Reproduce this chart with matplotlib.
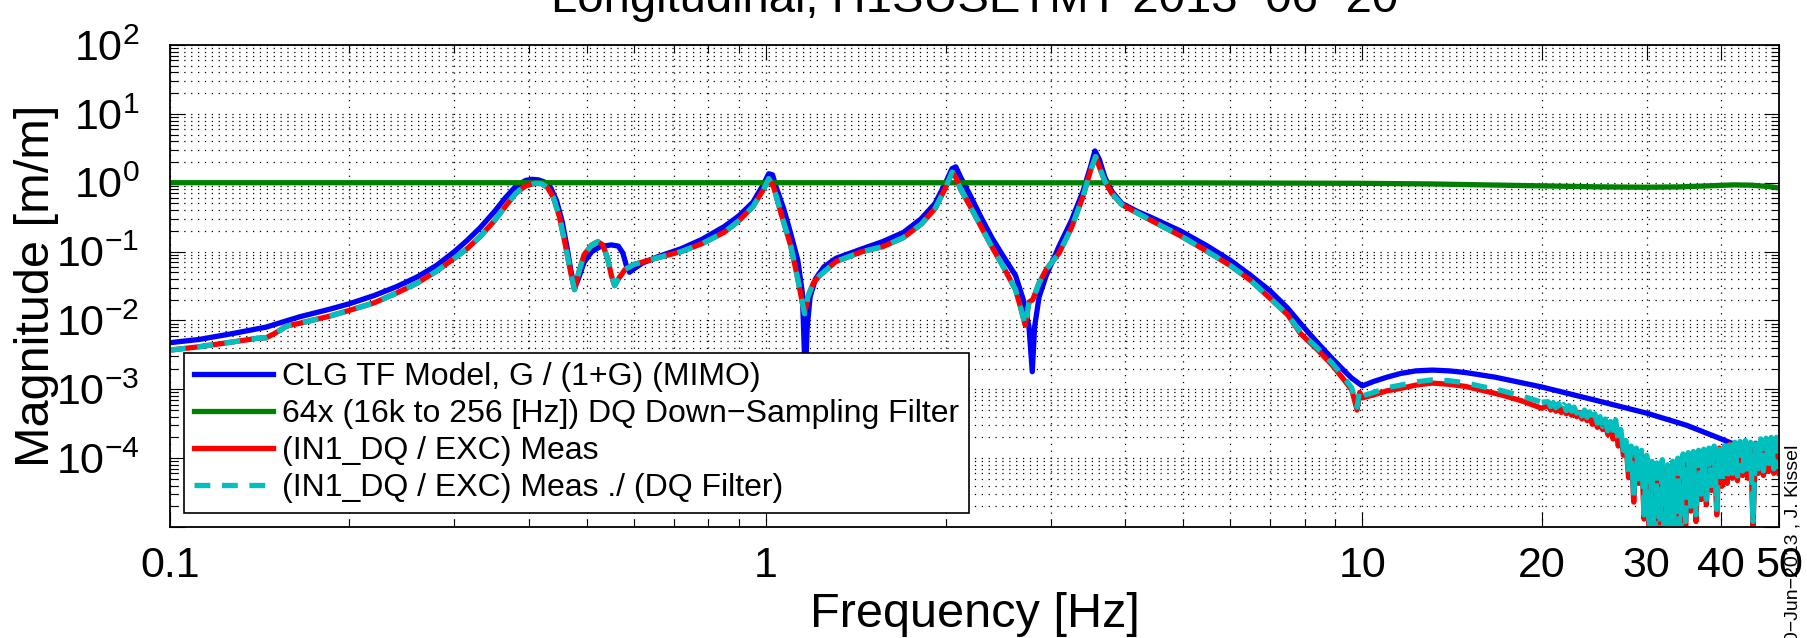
import matplotlib
matplotlib.use('Agg')
import matplotlib.pyplot as plt
import numpy as np
from matplotlib.ticker import FixedLocator, FixedFormatter, LogLocator, NullFormatter

## данные

# CLG TF model, G/(1+G)
model_freq = [0.1, 0.112, 0.128, 0.145, 0.165, 0.185, 0.2, 0.22, 0.24, 0.26, 0.28, 0.3,
              0.315, 0.331, 0.35, 0.365, 0.38, 0.395, 0.405, 0.415, 0.425, 0.435, 0.445,
              0.455, 0.463, 0.47, 0.477, 0.485, 0.495, 0.51, 0.527, 0.55, 0.565, 0.575,
              0.583, 0.59, 0.6, 0.62, 0.66, 0.72, 0.78, 0.85, 0.9, 0.95, 0.99, 1.01, 1.025,
              1.04, 1.07, 1.1, 1.13, 1.15, 1.163, 1.172, 1.185, 1.21, 1.25, 1.31, 1.45,
              1.57, 1.7, 1.82, 1.92, 2.0, 2.05, 2.08, 2.12, 2.2, 2.3, 2.39, 2.5, 2.62, 2.7,
              2.76, 2.795, 2.82, 2.87, 2.95, 3.1, 3.25, 3.4, 3.5, 3.56, 3.62, 3.7, 3.8,
              3.95, 4.2, 4.4, 4.95, 5.5, 6.0, 6.5, 7.0, 7.5, 7.87, 8.4, 8.9, 9.3, 9.6,
              10.0, 10.45, 11.0, 11.6, 12.3, 13.1, 14.0, 14.9, 16.7, 20.0, 24.5, 30.0,
              35.0, 40.0, 42.0, 45.0, 50.0]
model_mag = [4.75e-3, 5.3e-3, 6.5e-3, 8.0e-3, 1.13e-2, 1.45e-2, 1.75e-2, 2.3e-2, 3.1e-2,
             4.3e-2, 6.3e-2, 0.1, 0.145, 0.22, 0.38, 0.6, 0.88, 1.08, 1.12, 1.1, 1.02, 0.85,
             0.55, 0.27, 0.12, 0.055, 0.029, 0.042, 0.07, 0.1, 0.118, 0.125, 0.12, 0.095,
             0.062, 0.05, 0.056, 0.068, 0.085, 0.11, 0.15, 0.23, 0.33, 0.52, 0.95, 1.35,
             1.3, 0.85, 0.42, 0.18, 0.075, 0.025, 0.0015, 0.008, 0.022, 0.04, 0.06, 0.08,
             0.11, 0.14, 0.19, 0.3, 0.5, 1.0, 1.6, 1.7, 1.2, 0.65, 0.3, 0.16, 0.085, 0.045,
             0.02, 0.008, 0.0018, 0.008, 0.022, 0.045, 0.12, 0.28, 0.75, 1.7, 2.9, 2.2,
             1.2, 0.75, 0.5, 0.38, 0.32, 0.2, 0.12, 0.075, 0.045, 0.027, 0.015, 0.0091,
             0.0048, 0.0028, 0.0019, 0.00145, 0.00112, 0.0013, 0.0015, 0.0017, 0.00185,
             0.0019, 0.00185, 0.00175, 0.0015, 0.00108, 0.0007, 0.00045, 0.0003, 0.00019,
             0.00016, 0.00013, 0.0001]

# 64x DQ down-sampling filter
dq_freq = [0.1, 1, 5, 10, 13, 16, 20, 25, 30, 34, 38, 42, 45, 48, 50]
dq_mag = [1.0, 1.0, 0.995, 0.98, 0.96, 0.93, 0.9, 0.87, 0.86, 0.87, 0.9, 0.93, 0.92, 0.88, 0.84]

# (IN1_DQ / EXC) meas, гладкая часть
meas_freq_lo = [0.1, 0.112, 0.128, 0.14, 0.145, 0.15, 0.157, 0.165, 0.185, 0.2, 0.22, 0.24,
                0.26, 0.28, 0.3, 0.315, 0.331, 0.35, 0.365, 0.38, 0.395, 0.41, 0.42, 0.43,
                0.44, 0.45, 0.46, 0.47, 0.477, 0.485, 0.495, 0.51, 0.522, 0.532, 0.542,
                0.55, 0.557, 0.565, 0.58, 0.6, 0.66, 0.72, 0.78, 0.85, 0.9, 0.95, 0.99,
                1.01, 1.03, 1.06, 1.1, 1.13, 1.15, 1.16, 1.175, 1.2, 1.23, 1.31, 1.45, 1.57,
                1.7, 1.82, 1.92, 2.0, 2.05, 2.08, 2.12, 2.2, 2.3, 2.39, 2.5, 2.62, 2.68,
                2.72, 2.76, 2.8, 2.87, 2.95, 3.1, 3.25, 3.4, 3.5, 3.57, 3.63, 3.7, 3.8, 3.95,
                4.2, 4.4, 4.95, 5.5, 6.0, 6.5, 7.0, 7.5, 7.87, 8.4, 8.9, 9.3, 9.6, 9.8, 9.9,
                10.0, 10.45, 11.0, 11.6, 12.3, 13.1, 14.0, 14.9, 16.0, 17.1, 18.5, 20.0]
meas_mag_lo = [3.7e-3, 4.15e-3, 4.9e-3, 5.5e-3, 5.6e-3, 6.5e-3, 8.3e-3, 9.1e-3, 1.15e-2,
               1.4e-2, 1.8e-2, 2.5e-2, 3.5e-2, 5.2e-2, 8.0e-2, 0.11, 0.164, 0.28, 0.45, 0.7,
               0.9, 0.98, 0.97, 0.85, 0.6, 0.32, 0.13, 0.05, 0.028, 0.05, 0.09, 0.125, 0.139,
               0.125, 0.08, 0.045, 0.032, 0.04, 0.055, 0.065, 0.082, 0.1, 0.13, 0.19, 0.28,
               0.45, 0.8, 1.15, 0.85, 0.35, 0.12, 0.04, 0.018, 0.0125, 0.022, 0.035, 0.045,
               0.072, 0.1, 0.118, 0.16, 0.25, 0.42, 0.85, 1.42, 1.2, 0.8, 0.45, 0.22, 0.118,
               0.06, 0.028, 0.014, 0.0085, 0.0185, 0.02, 0.035, 0.055, 0.095, 0.22, 0.63, 1.5,
               2.4, 1.6, 1.05, 0.7, 0.48, 0.36, 0.29, 0.17, 0.1, 0.063, 0.038, 0.021, 0.012,
               0.0065, 0.0038, 0.00225, 0.0014, 0.00098, 0.0005, 0.0009, 0.00075, 0.00083,
               0.00095, 0.00103, 0.00115, 0.00123, 0.00118, 0.0011, 0.00095, 0.00083,
               0.00068, 0.00053]

# Meas ./ DQ filter: до ~8 Гц совпадает с meas, дальше чуть выше
corr_tail_lo = [0.0068, 0.004, 0.0024, 0.0015, 0.00105, 0.00055, 0.00097, 0.0008, 0.0009,
                0.00105, 0.00115, 0.00128, 0.00137, 0.00133, 0.00124, 0.00108, 0.00096,
                0.0008, 0.00065]

# шумная часть 20.5 .. 50 Гц (пары верх / низ полосы)
meas_mag_hi = [5.8e-4, 5.0e-4, 5.6e-4, 4.8e-4, 5.4e-4, 4.6e-4, 5.2e-4, 4.4e-4, 5.1e-4, 4.2e-4,
               4.8e-4, 4.0e-4, 4.6e-4, 3.7e-4, 4.4e-4, 3.5e-4, 4.1e-4, 3.1e-4, 3.8e-4, 2.8e-4,
               3.5e-4, 2.6e-4, 3.2e-4, 2.2e-4, 3.0e-4, 1.9e-4, 3.2e-4, 1.5e-4, 2.3e-4, 1.1e-4,
               1.6e-4, 5.2e-5, 1.35e-4, 2.3e-5, 1.25e-4, 4.3e-5, 1.15e-4, 1.3e-5, 9.5e-5, 6.5e-6,
               8.0e-5, 2.6e-6, 7.5e-5, 5.2e-6, 8.5e-5, 1.7e-6, 7.0e-5, 4.3e-6, 8.0e-5, 2.6e-6,
               9.0e-5, 3.3e-6, 1.0e-4, 1.0e-5, 1.05e-4, 1.7e-5, 1.1e-4, 1.2e-5, 1.15e-4, 2.5e-5,
               1.2e-4, 2.1e-5, 1.25e-4, 3.4e-5, 1.35e-4, 1.5e-5, 1.4e-4, 3.9e-5, 1.5e-4, 4.3e-5,
               1.6e-4, 5.1e-5, 1.5e-4, 4.7e-5, 1.55e-4, 5.6e-5, 1.6e-4, 5.1e-5, 1.5e-4, 1.0e-5,
               1.65e-4, 6.0e-5, 1.7e-4, 5.6e-5, 1.75e-4, 6.4e-5, 1.8e-4, 6.0e-5, 1.8e-4, 6.0e-5]
corr_mag_hi = [6.6e-4, 5.6e-4, 6.4e-4, 5.4e-4, 6.2e-4, 5.2e-4, 6.0e-4, 4.9e-4, 5.8e-4, 4.8e-4,
               5.5e-4, 4.5e-4, 5.3e-4, 4.1e-4, 5.0e-4, 3.9e-4, 4.7e-4, 3.5e-4, 4.4e-4, 3.2e-4,
               4.0e-4, 2.9e-4, 3.7e-4, 2.5e-4, 3.4e-4, 2.2e-4, 3.6e-4, 1.8e-4, 2.6e-4, 1.3e-4,
               1.8e-4, 6.0e-5, 1.5e-4, 2.7e-5, 1.4e-4, 5.0e-5, 1.3e-4, 1.5e-5, 1.1e-4, 8.0e-6,
               9.0e-5, 3.0e-6, 8.5e-5, 6.0e-6, 9.5e-5, 2.0e-6, 8.0e-5, 5.0e-6, 9.0e-5, 3.0e-6,
               1.0e-4, 4.0e-6, 1.15e-4, 1.2e-5, 1.2e-4, 2.0e-5, 1.25e-4, 1.5e-5, 1.3e-4, 3.0e-5,
               1.35e-4, 2.5e-5, 1.4e-4, 4.0e-5, 1.5e-4, 1.8e-5, 1.6e-4, 4.5e-5, 1.7e-4, 5.0e-5,
               1.8e-4, 6.0e-5, 1.7e-4, 5.5e-5, 1.75e-4, 6.5e-5, 1.8e-4, 6.0e-5, 1.7e-4, 1.2e-5,
               1.85e-4, 7.0e-5, 1.9e-4, 6.5e-5, 1.95e-4, 7.5e-5, 2.0e-4, 7.0e-5, 2.0e-4, 7.0e-5]
meas_freq_hi = list(np.geomspace(20.5, 50, len(meas_mag_hi)))

n_same = meas_freq_lo.index(7.87)
meas_freq = meas_freq_lo + meas_freq_hi
meas_mag = meas_mag_lo + meas_mag_hi
corr_mag_lo = meas_mag_lo[:n_same] + corr_tail_lo

xtick_vals = [0.1, 1, 10, 20, 30, 40, 50]
xtick_text = ['0.1', '1', '10', '20', '30', '40', '50']
ytick_vals = [1e-5, 1e-4, 1e-3, 1e-2, 1e-1, 1e0, 1e1, 1e2]
ytick_text = ['', r'$10^{-4}$', r'$10^{-3}$', r'$10^{-2}$', r'$10^{-1}$',
              r'$10^{0}$', r'$10^{1}$', r'$10^{2}$']

labels = ['CLG TF Model, G / (1+G) (MIMO)',
          '64x (16k to 256 [Hz]) DQ Down\u2212Sampling Filter',
          '(IN1_DQ / EXC) Meas',
          '(IN1_DQ / EXC) Meas ./ (DQ Filter)']

## оформление

plt.rcParams['font.family'] = ['Liberation Sans', 'DejaVu Sans']
plt.rcParams['mathtext.fontset'] = 'custom'
plt.rcParams['mathtext.rm'] = 'Liberation Sans'
plt.rcParams['mathtext.it'] = 'Liberation Sans:italic'
plt.rcParams['mathtext.bf'] = 'Liberation Sans:bold'

W, H = 1807, 638
fig = plt.figure(figsize=(W / 100, H / 100), dpi=100)
ax = fig.add_axes([170 / W, 1 - 527 / H, 1609 / W, 482 / H])

lw = 3.8
cyan = '#00BFBF'
ax.loglog(model_freq, model_mag, color='b', lw=lw, label=labels[0])
ax.loglog(dq_freq, dq_mag, color='#008000', lw=lw, label=labels[1])
ax.loglog(meas_freq, meas_mag, color='r', lw=lw, label=labels[2])
ax.loglog(meas_freq_lo, corr_mag_lo, color=cyan, lw=lw, ls=(0, (3, 2.2)), label=labels[3])
# шумный хвост той же кривой: штрихи почти сливаются, как на оригинале
ax.loglog(meas_freq_lo[-1:] + meas_freq_hi, corr_mag_lo[-1:] + corr_mag_hi,
          color=cyan, lw=lw, ls=(0, (6, 1.2)))

ax.set_xlim(0.1, 50)
ax.set_ylim(1e-5, 1e2)

ax.xaxis.set_major_locator(FixedLocator(xtick_vals))
ax.xaxis.set_major_formatter(FixedFormatter(xtick_text))
ax.xaxis.set_minor_locator(LogLocator(base=10, subs=np.arange(2, 10), numticks=20))
ax.xaxis.set_minor_formatter(NullFormatter())
ax.yaxis.set_major_locator(FixedLocator(ytick_vals))
ax.yaxis.set_major_formatter(FixedFormatter(ytick_text))
ax.yaxis.set_minor_locator(LogLocator(base=10, subs=np.arange(2, 10), numticks=20))
ax.yaxis.set_minor_formatter(NullFormatter())

ax.grid(True, which='both', ls=(0, (1, 4.5)), lw=0.9, color='k')
ax.tick_params(which='both', direction='in', top=True, right=True, width=0.8)
ax.tick_params(which='major', length=11, labelsize=31)
ax.tick_params(which='minor', length=6)
ax.tick_params(axis='x', pad=14)
ax.tick_params(axis='y', pad=22)
for s in ax.spines.values():
    s.set_linewidth(1.3)

leg = ax.legend(loc='lower left', bbox_to_anchor=(0.0087, 0.029), borderaxespad=0,
                fontsize=23, fancybox=False, edgecolor='k', framealpha=1,
                handlelength=2.5, handletextpad=0.28, labelspacing=0.22, borderpad=0.3)
leg.get_frame().set_linewidth(1.2)

fig.text(975 / W, 1 - 12.5 / H, 'Longitudinal, H1SUSETMY 2013\u221206\u221220',
         ha='center', va='baseline', fontsize=34)
fig.text(975 / W, 1 - 627 / H, 'Frequency [Hz]', ha='center', va='baseline', fontsize=35)
fig.text(37 / W, 1 - 286 / H, 'Magnitude [m/m]', rotation=90, ha='center', va='center',
         fontsize=35)
fig.text(1793 / W, 1 - 445 / H, '20\u2212Jun\u22122013 , J. Kissel', rotation=90,
         ha='center', va='top', fontsize=14)

fig.savefig('out.png', dpi=100)
